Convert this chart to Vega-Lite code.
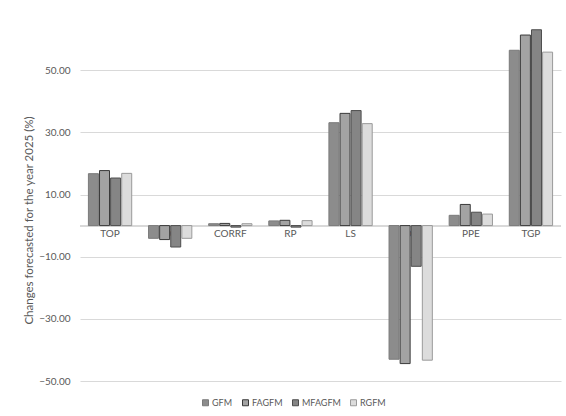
{
  "$schema": "https://vega.github.io/schema/vega-lite/v6.json",
  "width": 481,
  "height": 373,
  "autosize": {"type": "none"},
  "padding": {"left": 80, "top": 8, "right": 5, "bottom": 35},
  "background": "white",
  "config": {
    "font": "Lato",
    "view": {"stroke": null},
    "axis": {"labelColor": "#595959", "titleColor": "#595959", "labelFont": "Lato", "titleFont": "Lato"},
    "legend": {"labelFont": "Lato"}
  },
  "data": {
    "values": [
      {"category": "TOP", "model": "GFM", "value": 16.7},
      {"category": "TOP", "model": "FAGFM", "value": 17.7},
      {"category": "TOP", "model": "MFAGFM", "value": 15.3},
      {"category": "TOP", "model": "RGFM", "value": 16.8},
      {"category": "CO", "model": "GFM", "value": -4.1},
      {"category": "CO", "model": "FAGFM", "value": -4.5},
      {"category": "CO", "model": "MFAGFM", "value": -6.9},
      {"category": "CO", "model": "RGFM", "value": -4.1},
      {"category": "CORRF", "model": "GFM", "value": 0.6},
      {"category": "CORRF", "model": "FAGFM", "value": 0.7},
      {"category": "CORRF", "model": "MFAGFM", "value": -0.5},
      {"category": "CORRF", "model": "RGFM", "value": 0.6},
      {"category": "RP", "model": "GFM", "value": 1.5},
      {"category": "RP", "model": "FAGFM", "value": 1.7},
      {"category": "RP", "model": "MFAGFM", "value": -0.5},
      {"category": "RP", "model": "RGFM", "value": 1.6},
      {"category": "LS", "model": "GFM", "value": 33.1},
      {"category": "LS", "model": "FAGFM", "value": 36.1},
      {"category": "LS", "model": "MFAGFM", "value": 37.0},
      {"category": "LS", "model": "RGFM", "value": 32.8},
      {"category": "OP", "model": "GFM", "value": -43.0},
      {"category": "OP", "model": "FAGFM", "value": -44.4},
      {"category": "OP", "model": "MFAGFM", "value": -13.1},
      {"category": "OP", "model": "RGFM", "value": -43.3},
      {"category": "PPE", "model": "GFM", "value": 3.3},
      {"category": "PPE", "model": "FAGFM", "value": 6.8},
      {"category": "PPE", "model": "MFAGFM", "value": 4.3},
      {"category": "PPE", "model": "RGFM", "value": 3.7},
      {"category": "TGP", "model": "GFM", "value": 56.4},
      {"category": "TGP", "model": "FAGFM", "value": 61.3},
      {"category": "TGP", "model": "MFAGFM", "value": 63.0},
      {"category": "TGP", "model": "RGFM", "value": 55.8}
    ]
  },
  "encoding": {
    "x": {
      "field": "category",
      "type": "nominal",
      "sort": null,
      "scale": {"paddingInner": 0.28, "paddingOuter": 0.14},
      "axis": null
    }
  },
  "layer": [
    {
      "mark": {"type": "rule", "color": "#d9d9d9", "strokeWidth": 1},
      "encoding": {
        "y": {"datum": 0, "type": "quantitative"},
        "x": null
      }
    },
    {
      "transform": [{"filter": "datum.model === 'GFM'"}],
      "mark": {"type": "text", "baseline": "top", "dy": 3, "fontSize": 10, "color": "#595959"},
      "encoding": {
        "y": {"datum": 0, "type": "quantitative"},
        "text": {"field": "category"}
      }
    },
    {
      "mark": {"type": "bar", "strokeWidth": 1},
      "encoding": {
        "y": {
          "field": "value",
          "type": "quantitative",
          "scale": {"domain": [-50, 70], "nice": false, "zero": false},
          "axis": {
            "values": [-50, -30, -10, 10, 30, 50],
            "format": ".2f",
            "grid": true,
            "gridColor": "#d9d9d9",
            "domain": false,
            "ticks": false,
            "labelFontSize": 10,
            "labelColor": "#595959",
            "labelPadding": 10,
            "title": "Changes  forecasted for the year 2025 (%)",
            "titleColor": "#595959",
            "titleFontSize": 11.5,
            "titleFontWeight": "normal",
            "titlePadding": 4,
            "titleY": 212
          }
        },
        "xOffset": {
          "field": "model",
          "type": "nominal",
          "sort": ["GFM", "FAGFM", "MFAGFM", "RGFM"],
          "scale": {"paddingInner": 0.1}
        },
        "fill": {
          "field": "model",
          "type": "nominal",
          "sort": ["GFM", "FAGFM", "MFAGFM", "RGFM"],
          "scale": {
            "domain": ["GFM", "FAGFM", "MFAGFM", "RGFM"],
            "range": ["#8c8c8c", "#a3a3a3", "#858585", "#dcdcdc"]
          },
          "legend": {
            "title": null,
            "orient": "none",
            "direction": "horizontal",
            "legendX": 121,
            "legendY": 390,
            "symbolType": "square",
            "symbolSize": 36,
            "symbolStrokeWidth": 1,
            "labelFontSize": 9,
            "labelColor": "#595959",
            "labelOffset": 2,
            "columnPadding": 7
          }
        },
        "stroke": {
          "field": "model",
          "type": "nominal",
          "sort": ["GFM", "FAGFM", "MFAGFM", "RGFM"],
          "scale": {
            "domain": ["GFM", "FAGFM", "MFAGFM", "RGFM"],
            "range": ["#7a7a7a", "#3a3a3a", "#4d4d4d", "#9a9a9a"]
          }
        }
      }
    }
  ]
}
